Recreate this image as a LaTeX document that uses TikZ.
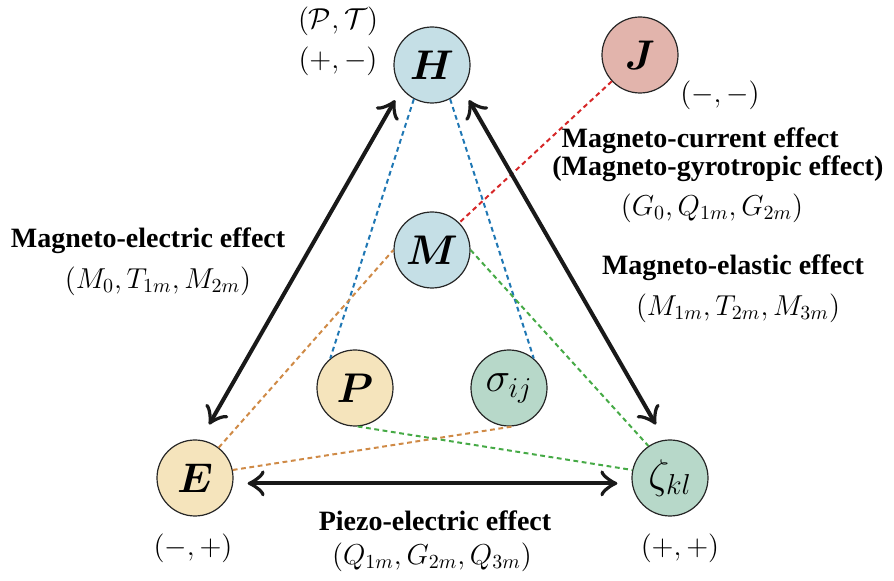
\documentclass[tikz,border=0pt]{standalone}
\usepackage{amsmath,amssymb,bm}
\usepackage[no-math]{fontspec}
\setmainfont{Liberation Serif}
\usetikzlibrary{arrows.meta}

\definecolor{fieldblue}{RGB}{197,223,230}
\definecolor{fieldred}{RGB}{226,180,172}
\definecolor{fieldyellow}{RGB}{245,228,188}
\definecolor{fieldgreen}{RGB}{183,216,201}
\definecolor{linkblue}{RGB}{31,119,180}
\definecolor{linkred}{RGB}{214,39,40}
\definecolor{linkorange}{RGB}{207,138,70}
\definecolor{linkgreen}{RGB}{70,170,70}

\begin{document}
\begin{tikzpicture}[x=0.5pt, y=-0.5pt,
  field/.style={circle, draw=black!85, line width=0.6pt, minimum size=38pt, inner sep=0pt, font=\fontsize{20}{24}\selectfont},
  effect/.style={draw=black!90, line width=2pt, {Classical TikZ Rightarrow[length=8.5pt,width=13pt]}-{Classical TikZ Rightarrow[length=8.5pt,width=13pt]}},
  link/.style={dash pattern=on 2.4pt off 1.8pt, line width=1pt},
  title/.style={font=\fontsize{14}{14}\selectfont\bfseries, inner sep=0pt},
  parity/.style={font=\fontsize{14}{16}\selectfont, inner sep=0pt},
  coef/.style={font=\fontsize{14.8}{17}\selectfont, inner sep=0pt}]

  \useasboundingbox (0,0) rectangle (894,581);

  % fields
  \node [field, fill=fieldblue] (H) at (432,65) {$\boldsymbol{H}$};
  \node [field, fill=fieldred] (J) at (640,55) {$\boldsymbol{J}$};
  \node [field, fill=fieldblue] (M) at (432,250) {$\boldsymbol{M}$};
  \node [field, fill=fieldyellow] (P) at (355,388) {$\boldsymbol{P}$};
  \node [field, fill=fieldgreen] (sigma) at (509,388) {$\sigma_{ij}$};
  \node [field, fill=fieldyellow] (E) at (195,478) {$\boldsymbol{E}$};
  \node [field, fill=fieldgreen] (zeta) at (670,478) {$\zeta_{kl}$};

  % parities
  \node [parity] (PT) at (338,21) {$(\mathcal{P},\mathcal{T})$};
  \node [parity] (Hpar) at (338,61) {$(+,-)$};
  \node [parity] (Jpar) at (720,95) {$(-,-)$};
  \node [parity] (Epar) at (193,548) {$(-,+)$};
  \node [parity] (zpar) at (680,548) {$(+,+)$};

  % dashed couplings
  \draw [link, linkblue] (H.242) -- (P.130);
  \draw [link, linkblue] (H.298) -- (sigma.50);
  \draw [link, linkred] (J.223) -- (M.45);
  \draw [link, linkorange] (E.52) -- (M.180);
  \draw [link, linkorange] (E.12) -- (sigma.277);
  \draw [link, linkgreen] (M.0) -- (zeta.124);
  \draw [link, linkgreen] (P.274) -- (zeta.168);

  % effects
  \draw [effect, shorten <=6.6pt, shorten >=8.8pt] (H.218) -- (E.82);
  \draw [effect, shorten <=6.6pt, shorten >=8.8pt] (H.322) -- (zeta.98);
  \draw [effect, shorten <=7.2pt, shorten >=7.2pt] (E.-8) -- (zeta.188);

  \node [title] (ME) at (148,241) {Magneto-electric effect};
  \node [coef] (MEc) at (158,281) {$(M_0, T_{1m}, M_{2m})$};
  \node [title, align=left, anchor=north west] (MC) at (552,127) {\hphantom{(}Magneto-current effect\\(Magneto-gyrotropic effect)};
  \node [coef] (MCc) at (712,208) {$(G_0, Q_{1m}, G_{2m})$};
  \node [title] (MEl) at (733,268) {Magneto-elastic effect};
  \node [coef] (MElc) at (738,308) {$(M_{1m}, T_{2m}, M_{3m})$};
  \node [title] (PE) at (435,521) {Piezo-electric effect};
  \node [coef] (PEc) at (432,557) {$(Q_{1m}, G_{2m}, Q_{3m})$};
\end{tikzpicture}
\end{document}
